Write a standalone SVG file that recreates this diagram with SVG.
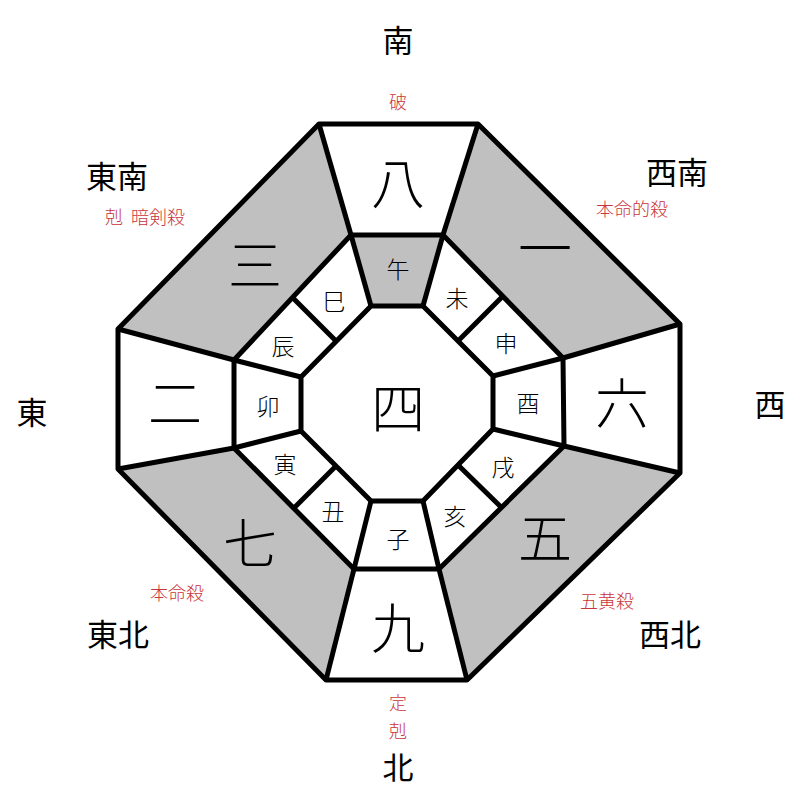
<svg xmlns="http://www.w3.org/2000/svg" width="800" height="800" viewBox="0 0 800 800">
<style>
.l{stroke:#000;stroke-width:5;fill:none;stroke-linejoin:round}
.g{fill:#c0c0c0}
text{font-family:"Noto Sans CJK JP","Noto Sans CJK SC",sans-serif;text-anchor:middle;dominant-baseline:central;fill:#000;font-weight:300}
.big{font-size:54px}
.br{font-size:23px}
.d{font-size:31px;font-weight:400}
.r{font-size:18px;fill:#c8353a}
</style>
<rect width="800" height="800" fill="#fff"/>
<g id="fills">
<polygon class="g" points="478,124 680,324 563,358 443,235"/>
<polygon class="g" points="319,124 351,235 234,360 118,329"/>
<polygon class="g" points="118,469 234,448 354,569 326,680"/>
<polygon class="g" points="680,473 467,680 439,569 564,446"/>
<polygon class="g" points="351,235 443,235 423,306 371,306"/>
</g>
<g id="connectors">
<polygon class="l" points="319,124 478,124 680,324 680,473 467,680 326,680 118,469 118,329" stroke-width="6"/>
<polygon class="l" points="351,235 443,235 563,358 564,446 439,569 354,569 234,448 234,360"/>
<polygon class="l" points="371,306 423,306 493,376 493,429 423,501 371,501 301,431 301,377"/>
<g class="l" stroke-width="4">
<line x1="319" y1="124" x2="351" y2="235"/><line x1="478" y1="124" x2="443" y2="235"/>
<line x1="680" y1="324" x2="563" y2="358"/><line x1="680" y1="473" x2="564" y2="446"/>
<line x1="467" y1="680" x2="439" y2="569"/><line x1="326" y1="680" x2="354" y2="569"/>
<line x1="118" y1="469" x2="234" y2="448"/><line x1="118" y1="329" x2="234" y2="360"/>
<line x1="371" y1="306" x2="351" y2="235"/><line x1="423" y1="306" x2="443" y2="235"/>
<line x1="493" y1="376" x2="563" y2="358"/><line x1="493" y1="429" x2="564" y2="446"/>
<line x1="423" y1="501" x2="439" y2="569"/><line x1="371" y1="501" x2="354" y2="569"/>
<line x1="301" y1="431" x2="234" y2="448"/><line x1="301" y1="377" x2="234" y2="360"/>
<line x1="458" y1="341" x2="503" y2="296"/><line x1="458" y1="465" x2="501" y2="507"/>
<line x1="336" y1="466" x2="294" y2="508"/><line x1="336" y1="341" x2="292" y2="297"/>
</g>
</g>
<g id="stars">
<text class="big" x="398" y="180">八</text><text class="big" x="545" y="245">一</text>
<text class="big" x="622" y="400">六</text><text class="big" x="545" y="535">五</text>
<text class="big" x="398" y="625">九</text><text class="big" x="250" y="540">七</text>
<text class="big" x="175" y="400">二</text><text class="big" x="255" y="262">三</text>
<text class="big" x="398" y="405" font-size="58">四</text>
</g>
<g id="branches">
<text class="br" x="398" y="268">午</text><text class="br" x="457" y="297">未</text>
<text class="br" x="506" y="342">申</text><text class="br" x="528" y="402">酉</text>
<text class="br" x="503" y="466">戌</text><text class="br" x="455" y="515">亥</text>
<text class="br" x="398" y="538">子</text><text class="br" x="333" y="510">丑</text>
<text class="br" x="285" y="463">寅</text><text class="br" x="268" y="405">卯</text>
<text class="br" x="283" y="345">辰</text><text class="br" x="334" y="300">巳</text>
</g>
<g id="directions">
<text class="d" x="398" y="38">南</text><text class="d" x="117" y="174">東南</text>
<text class="d" x="677" y="170">西南</text><text class="d" x="32" y="410">東</text>
<text class="d" x="770" y="402">西</text><text class="d" x="118" y="632">東北</text>
<text class="d" x="670" y="632">西北</text><text class="d" x="398" y="765">北</text>
</g>
<g id="notes">
<text class="r" x="145" y="216" xml:space="preserve">剋  暗剣殺</text>
<text class="r" x="398" y="101">破</text>
<text class="r" x="632" y="208">本命的殺</text>
<text class="r" x="177" y="592">本命殺</text>
<text class="r" x="607" y="600">五黄殺</text>
<text class="r" x="398" y="702">定</text>
<text class="r" x="398" y="730">剋</text>
</g>
</svg>
